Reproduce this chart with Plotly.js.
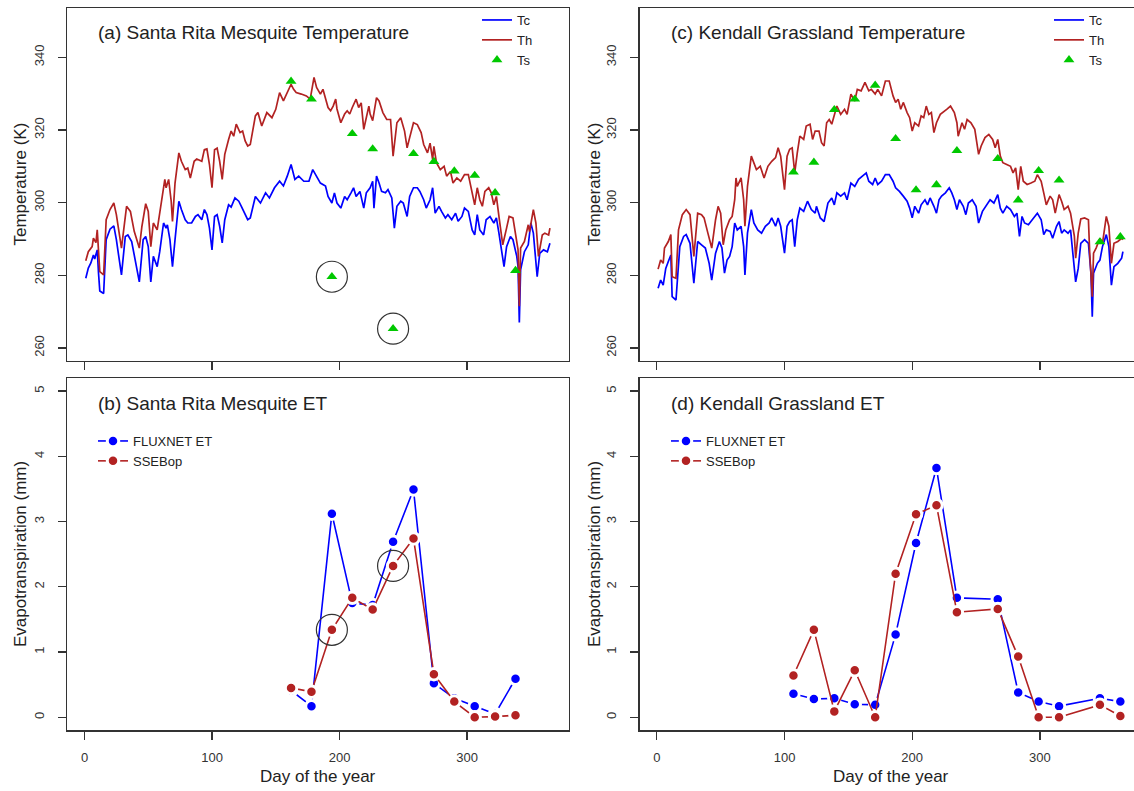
<!DOCTYPE html>
<html>
<head>
<meta charset="utf-8">
<script src="https://cdn.plot.ly/plotly-3.0.1.min.js"></script>
<style>
html,body{margin:0;padding:0;overflow:hidden;background:#fff;}
#plot{width:1150px;height:791px;}
</style>
</head>
<body>
<div id="plot"></div>
<script>
// ---------------- DATA ----------------
// Panel (a) Santa Rita Mesquite temperature
const dayThA = [1,3,6,7,9,10,12,15,17,20,23,25,29,33,36,39,43,45,48,50,52,54,57,59,61,63,64,66,68,69,71,74,76,79,81,83,86,88,92,94,96,98,100,102,104,106,108,110,113,115,117,119,122,124,126,128,130,134,136,139,143,147,150,153,156,159,162,164,166,170,174,177,180,182,185,187,189,191,193,195,197,198,201,204,206,208,210,213,215,217,219,221,223,224,226,229,231,234,237,240,242,245,248,251,253,255,258,261,264,266,269,271,273,274,276,279,282,284,287,289,292,295,298,301,304,306,308,310,312,314,317,319,321,323,325,328,331,333,336,338,340,341,342,345,348,349,352,354,356,359,361,364,365];
const thA = [284.0,286.5,287.9,290.2,289.0,292.5,281.0,280.1,295.3,298.1,299.9,296.7,287.5,299.0,297.6,292.1,287.5,293.4,299.7,297.6,287.9,294.4,292.5,297.1,301.7,306.4,304.1,306.4,300.4,294.8,305.4,313.7,311.4,309.1,309.5,306.8,311.4,312.0,311.4,314.6,314.8,310.5,304.1,314.6,315.0,311.4,306.4,313.3,317.4,319.7,318.3,321.6,319.3,319.7,317.0,315.6,316.0,323.9,324.8,321.1,324.8,323.4,325.7,330.3,328.0,330.4,332.6,331.2,330.3,329.9,329.4,328.5,334.5,331.7,329.9,331.2,328.9,326.2,325.3,326.6,328.5,325.8,322.0,324.4,325.3,324.4,326.2,328.5,326.2,327.5,320.2,323.9,326.6,324.4,322.6,328.9,328.0,324.8,322.9,322.9,312.8,322.0,323.4,319.7,315.1,317.9,322.0,321.5,319.3,316.0,313.7,316.4,311.9,315.5,311.0,309.1,310.0,307.3,308.6,305.4,306.8,305.9,307.7,307.7,303.1,299.4,304.1,300.8,299.0,303.1,304.1,302.7,299.4,301.7,296.2,288.4,293.0,296.2,295.8,291.6,287.0,271.5,287.5,289.3,293.9,292.0,298.1,294.4,285.2,291.1,291.6,291.1,293.0];
const dayTcA = [1,3,5,7,8,10,11,12,15,17,20,23,25,29,32,34,37,40,43,46,48,50,52,54,57,59,62,64,65,67,69,71,74,76,79,81,84,87,89,92,94,96,98,100,102,104,106,108,110,113,115,118,121,123,126,128,130,134,138,142,145,149,153,156,159,162,165,168,172,176,179,182,185,189,191,194,196,198,201,204,206,209,211,213,216,219,221,224,226,227,229,231,233,236,238,241,243,245,248,250,253,255,258,261,263,266,268,271,273,275,278,280,283,285,288,291,293,296,298,301,304,306,308,310,313,315,318,321,323,325,329,331,334,336,339,340,341,342,345,348,350,352,355,357,360,363,365];
const tcA = [279.2,282.0,283.4,285.6,284.5,287.0,280.6,275.7,275.0,289.8,292.7,293.6,289.8,280.1,290.7,291.1,289.3,283.4,278.2,289.8,290.7,287.9,278.2,285.2,282.4,286.5,294.4,293.0,293.9,289.8,282.4,289.8,300.4,298.1,295.3,294.4,294.4,296.2,296.7,295.3,298.1,296.7,293.0,287.0,296.2,296.7,293.5,288.9,295.3,299.4,298.8,301.3,300.4,299.0,296.7,295.3,295.8,301.7,299.9,302.7,301.3,304.1,305.9,304.6,307.3,310.5,306.4,307.3,305.9,305.9,309.1,307.3,305.4,304.6,301.7,299.9,302.7,299.9,298.5,301.7,300.8,302.7,304.1,301.7,303.1,298.5,302.7,304.1,305.9,298.5,307.3,305.4,303.1,302.7,303.6,301.3,293.0,299.0,300.4,299.9,296.2,301.7,304.1,304.1,303.1,300.8,298.5,300.8,304.1,297.1,299.0,297.6,295.8,296.7,295.3,297.1,294.9,296.2,298.5,297.6,292.5,291.1,296.7,292.5,291.1,295.3,296.2,294.4,295.8,291.6,282.4,287.9,290.7,289.8,285.2,282.4,267.0,281.5,286.5,288.4,294.4,291.6,279.6,286.0,287.0,286.5,288.8];
const dayTsA = [162,178,194,210,226,242,258,274,290,306,322,338];
const tsA = [333.4,328.5,279.6,319.0,314.8,265.3,313.5,311.3,308.7,307.5,302.7,281.3];
const circledA = [194,242];

// Panel (b) Santa Rita Mesquite ET
const dayEtB = [162,178,194,210,226,242,258,274,290,306,322,338];
const fluxB = [0.41,0.17,3.12,1.75,1.72,2.69,3.49,0.52,0.29,0.17,0.05,0.59];
const ssebB = [0.45,0.39,1.34,1.83,1.65,2.32,2.74,0.66,0.24,0.00,0.01,0.03];
const circledB = [194,242];

// Panel (c) Kendall Grassland temperature
const dayThC = [1,3,5,6,9,11,12,15,17,20,23,26,29,32,35,37,40,43,46,48,50,52,54,57,59,61,62,63,66,68,69,71,74,76,78,81,84,87,90,93,95,97,100,102,104,106,108,110,112,115,117,120,122,124,127,129,131,133,135,137,139,141,144,147,149,152,155,157,160,163,166,168,171,173,176,179,182,185,187,189,191,193,196,198,200,202,205,207,209,211,213,215,217,219,222,225,227,230,233,235,236,239,241,243,246,249,252,254,257,260,263,265,267,269,271,274,277,279,281,283,285,287,290,293,296,298,301,303,305,308,310,312,315,317,319,322,324,327,328,330,332,335,338,339,341,342,344,347,349,352,354,356,358,361,364,365];
const thC = [281.7,284.2,283.3,287.5,289.3,291.2,279.6,279.2,292.5,296.7,298.1,296.7,285.2,297.1,296.7,295.8,291.6,287.5,295.3,299.0,297.1,288.4,292.5,295.3,296.2,300.8,306.8,304.5,306.8,300.8,293.5,304.5,312.8,311.0,309.1,310.0,306.8,310.0,311.4,312.4,315.1,312.8,303.6,312.8,314.7,315.1,308.2,313.7,318.3,317.4,321.1,321.6,317.4,319.7,319.7,316.5,315.6,322.0,322.9,321.6,323.9,326.6,324.3,325.7,324.3,329.9,328.0,331.2,330.8,333.1,330.8,331.2,329.9,331.2,329.4,333.5,333.5,329.4,327.6,328.5,325.7,327.6,324.8,323.4,319.7,322.0,321.1,323.9,323.4,326.6,324.3,324.8,319.3,322.0,324.3,325.3,325.7,326.6,324.8,322.0,318.3,322.0,320.2,322.9,322.0,320.2,313.3,315.6,317.9,318.8,317.4,315.1,317.4,312.8,311.0,310.5,310.0,308.2,309.6,303.6,310.0,305.9,305.0,305.4,305.9,307.7,305.9,302.7,299.4,301.8,300.8,297.1,302.2,300.4,298.1,299.0,297.1,290.7,284.7,291.6,295.5,295.8,295.3,286.1,274.1,286.1,287.5,290.2,288.8,296.2,293.5,283.3,288.8,289.3,290.2,289.8];
const dayTcC = [1,3,5,7,9,11,12,15,18,21,23,26,29,32,35,38,41,43,46,49,51,53,55,57,59,61,63,66,68,69,71,74,76,79,82,85,88,90,93,95,97,100,102,104,106,108,110,112,115,118,121,124,125,128,131,134,137,139,141,144,147,149,152,155,158,161,164,166,169,171,173,176,179,182,185,187,190,193,196,198,200,202,205,207,210,212,214,217,219,221,223,226,229,231,233,235,237,240,242,244,247,250,252,255,259,261,264,267,269,271,274,277,280,282,284,286,288,291,294,298,301,303,305,308,310,313,315,317,319,322,324,326,328,330,332,335,338,340,341,342,345,347,349,352,354,356,358,361,364,365];
const tcC = [276.4,278.7,277.3,281.9,283.8,285.6,274.1,273.2,287.9,290.7,291.2,288.8,277.8,289.3,288.4,287.5,283.3,278.7,286.1,289.3,287.5,280.6,284.2,285.2,287.9,294.4,292.5,293.5,287.9,280.1,291.6,298.1,294.4,292.5,291.6,293.5,294.4,295.8,293.5,295.8,293.5,286.1,293.5,294.8,295.3,287.9,295.3,298.5,297.6,300.4,298.1,297.1,299.0,295.8,294.8,299.9,301.3,299.4,302.7,301.8,302.7,300.8,305.4,304.5,306.4,307.3,308.2,305.9,305.0,306.8,305.0,305.9,307.7,307.7,305.9,304.1,303.1,301.8,300.4,298.5,295.8,299.0,297.1,299.4,300.8,299.4,301.3,299.0,297.1,300.8,301.8,302.7,304.1,302.7,300.8,298.1,300.8,299.0,296.7,299.9,300.8,299.0,294.4,297.6,299.9,300.8,299.9,302.2,298.5,297.1,299.0,298.1,296.2,297.1,290.7,296.2,294.4,293.9,295.3,297.1,295.3,291.2,292.5,292.1,290.2,293.5,294.8,291.6,292.5,291.6,292.5,284.2,278.2,281.9,288.8,289.8,288.8,280.6,268.6,280.6,283.3,284.2,287.9,291.2,287.9,277.3,282.4,283.3,284.7,286.5];
const dayTsC = [107,123,139,155,171,187,203,219,235,267,283,299,315,347,363];
const tsC = [308.4,311.1,325.6,328.5,332.3,317.6,303.5,304.9,314.3,312.1,300.7,308.8,306.2,289.2,290.6];

// Panel (d) Kendall Grassland ET
const dayEtD = [107,123,139,155,171,187,203,219,235,267,283,299,315,347,363];
const fluxD = [0.36,0.28,0.29,0.20,0.19,1.27,2.67,3.82,1.83,1.81,0.38,0.24,0.17,0.29,0.24];
const ssebD = [0.64,1.34,0.09,0.72,0.00,2.20,3.11,3.25,1.61,1.66,0.93,0.00,0.00,0.19,0.02];

const xTicks = [0,100,200,300];
const tempTicks = [260,280,300,320,340];
const etTicks = [0,1,2,3,4,5];
const titles = ["(a) Santa Rita Mesquite Temperature","(b) Santa Rita Mesquite ET",
                "(c) Kendall Grassland Temperature","(d) Kendall Grassland ET"];

// ---------------- STYLE ----------------
const W = 1150, H = 791;
const BLUE = '#0000FF', RED = '#B22222', GREEN = '#00C800', FRAME = '#333333';
const fx = p => p / W, fy = p => 1 - p / H;

function pick(days, vals, which){ return which.map(d => vals[days.indexOf(d)]); }

function tempTraces(xa, ya, dTc, tc, dTh, th, dTs, ts, leg, circ){
  const t = [
    {x:dTc, y:tc, type:'scatter', mode:'lines', name:'Tc', xaxis:xa, yaxis:ya, legend:leg,
     line:{color:BLUE, width:1.7}},
    {x:dTh, y:th, type:'scatter', mode:'lines', name:'Th', xaxis:xa, yaxis:ya, legend:leg,
     line:{color:RED, width:1.7}},
    {x:dTs, y:ts, type:'scatter', mode:'markers', name:'Ts', xaxis:xa, yaxis:ya, legend:leg,
     marker:{symbol:'triangle-up', size:9.5, color:GREEN}}
  ];
  if (circ) t.push({x:circ, y:pick(dTs, ts, circ), type:'scatter', mode:'markers', showlegend:false,
     xaxis:xa, yaxis:ya, marker:{symbol:'circle-open', size:31, color:FRAME, line:{width:1.2, color:FRAME}}});
  return t;
}
function etTraces(xa, ya, d, fl, ss, leg, circ){
  const mk = c => ({size:11.5, color:c, line:{color:'#ffffff', width:3}});
  const t = [
    {x:d, y:fl, type:'scatter', mode:'lines+markers', name:'FLUXNET ET', xaxis:xa, yaxis:ya, legend:leg,
     line:{color:BLUE, width:1.6}, marker:mk(BLUE)},
    {x:d, y:ss, type:'scatter', mode:'lines+markers', name:'SSEBop', xaxis:xa, yaxis:ya, legend:leg,
     line:{color:RED, width:1.6}, marker:mk(RED)}
  ];
  if (circ) t.push({x:circ, y:pick(d, ss, circ), type:'scatter', mode:'markers', showlegend:false,
     xaxis:xa, yaxis:ya, marker:{symbol:'circle-open', size:31, color:FRAME, line:{width:1.2, color:FRAME}}});
  return t;
}

const data = [].concat(
  tempTraces('x','y', dayTcA, tcA, dayThA, thA, dayTsA, tsA, 'legend', circledA),
  etTraces('x2','y2', dayEtB, fluxB, ssebB, 'legend2', circledB),
  tempTraces('x3','y3', dayTcC, tcC, dayThC, thC, dayTsC, tsC, 'legend3', null),
  etTraces('x4','y4', dayEtD, fluxD, ssebD, 'legend4', null)
);

const baseAxis = {
  showline:true, mirror:true, linecolor:FRAME, linewidth:1.3,
  ticks:'outside', ticklen:8, tickwidth:1.2, tickcolor:FRAME,
  showgrid:false, zeroline:false, fixedrange:true,
  tickfont:{size:13, color:'#333'}
};
const xAx = (dom, anchor, labels) => Object.assign({}, baseAxis, {
  domain:dom, anchor:anchor, range:[-13.56, 379.56], tickmode:'array', tickvals:xTicks,
  showticklabels:labels, ticklabelstandoff:7
});
const yAx = (dom, anchor, rng, tv) => Object.assign({}, baseAxis, {
  domain:dom, anchor:anchor, range:rng, tickmode:'array', tickvals:tv, tickangle:-90,
  ticklabelstandoff:9
});

const domL = [fx(67.2), fx(568.5)], domR = [fx(639.5), fx(1141.5)];
const domT = [fy(361), fy(8)], domB = [fy(730.3), fy(378)];

const legBase = {xanchor:'left', yanchor:'top', bgcolor:'rgba(0,0,0,0)', font:{size:13, color:'#222'},
                 itemwidth:30, tracegroupgap:0, borderwidth:0};

const ann = [];
function txt(x, y, s, opts){ ann.push(Object.assign({xref:'paper', yref:'paper', x:fx(x), y:fy(y), text:s,
  showarrow:false, font:{size:19, color:'#222'}, xanchor:'left', yanchor:'middle'}, opts||{})); }
txt(96, 33, titles[0]);
txt(96, 403, titles[1]);
txt(669, 33, titles[2]);
txt(669, 403, titles[3]);
const axT = {font:{size:17, color:'#222'}, xanchor:'center'};
txt(20, 184.5, 'Temperature (K)', Object.assign({textangle:-90}, axT));
txt(594, 184.5, 'Temperature (K)', Object.assign({textangle:-90}, axT));
txt(20, 554, 'Evapotranspiration (mm)', Object.assign({textangle:-90}, axT));
txt(594, 554, 'Evapotranspiration (mm)', Object.assign({textangle:-90}, axT));
txt(318, 776, 'Day of the year', axT);
txt(890.5, 776, 'Day of the year', axT);

const layout = {
  width:W, height:H, margin:{l:0, r:0, t:0, b:0},
  paper_bgcolor:'#fff', plot_bgcolor:'#fff',
  font:{family:'"Liberation Sans", Arial, sans-serif', color:'#222'},
  xaxis: xAx(domL, 'y', false),
  yaxis: yAx(domT, 'x', [256.4, 353.6], tempTicks),
  xaxis2: xAx(domL, 'y2', true),
  yaxis2: yAx(domB, 'x2', [-0.2, 5.2], etTicks),
  xaxis3: xAx(domR, 'y3', false),
  yaxis3: yAx(domT, 'x3', [256.4, 353.6], tempTicks),
  xaxis4: xAx(domR, 'y4', true),
  yaxis4: yAx(domB, 'x4', [-0.2, 5.2], etTicks),
  legend:  Object.assign({}, legBase, {x:fx(477), y:fy(5)}),
  legend2: Object.assign({}, legBase, {x:fx(93), y:fy(426)}),
  legend3: Object.assign({}, legBase, {x:fx(1049), y:fy(5)}),
  legend4: Object.assign({}, legBase, {x:fx(666), y:fy(426)}),
  annotations: ann,
  showlegend:true
};

Plotly.newPlot('plot', data, layout, {displayModeBar:false, staticPlot:true});
</script>
</body>
</html>
